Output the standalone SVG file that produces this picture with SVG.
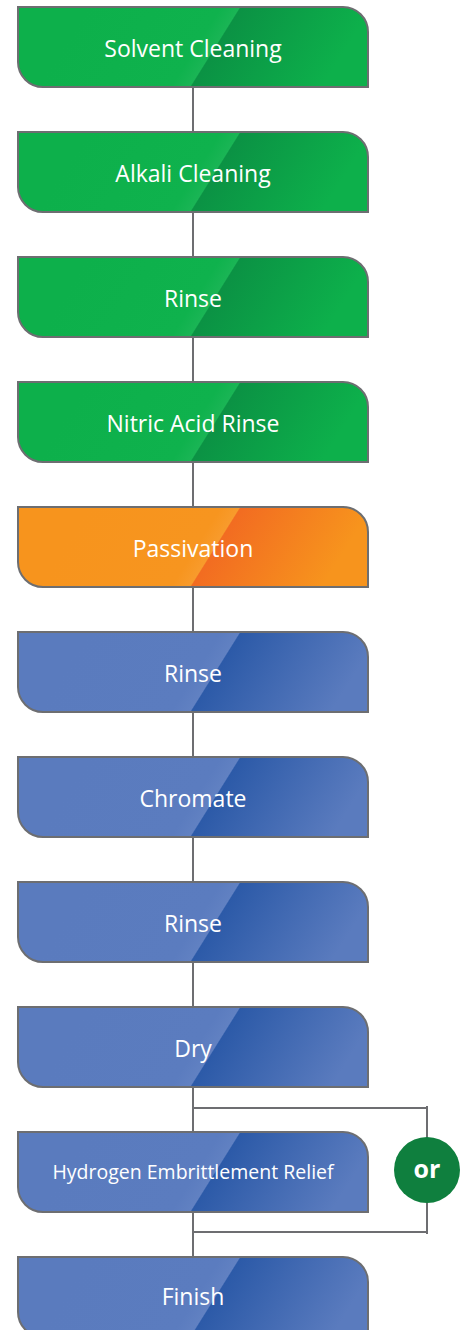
<svg xmlns="http://www.w3.org/2000/svg" width="465" height="1330" viewBox="0 0 465 1330">
<defs>
<linearGradient id="gGreen" gradientUnits="userSpaceOnUse" x1="100" y1="-20" x2="420" y2="180">
<stop offset="0" stop-color="#0db04b"/><stop offset="0.3" stop-color="#0fb24d"/><stop offset="0.342" stop-color="#1ab555"/><stop offset="0.345" stop-color="#0b9244"/><stop offset="0.64" stop-color="#0db04b"/>
</linearGradient>
<linearGradient id="gOrange" gradientUnits="userSpaceOnUse" x1="100" y1="-20" x2="420" y2="180">
<stop offset="0" stop-color="#f7941d"/><stop offset="0.3" stop-color="#f7951f"/><stop offset="0.342" stop-color="#f89b2c"/><stop offset="0.345" stop-color="#f26c21"/><stop offset="0.64" stop-color="#f7941d"/>
</linearGradient>
<linearGradient id="gBlue" gradientUnits="userSpaceOnUse" x1="100" y1="-20" x2="420" y2="180">
<stop offset="0" stop-color="#5a7bbe"/><stop offset="0.3" stop-color="#5b7cbf"/><stop offset="0.342" stop-color="#6181c2"/><stop offset="0.345" stop-color="#2c5aa8"/><stop offset="0.66" stop-color="#5a7bbe"/>
</linearGradient>
<path id="box" d="M18,0 H343 A25,25 0 0 1 368,25 V80 H43 A25,25 0 0 1 18,55 Z"/>
</defs>
<style>
.b{stroke:#6d6e71;stroke-width:2}
.green{fill:url(#gGreen)}
.orange{fill:url(#gOrange)}
.blue{fill:url(#gBlue)}
.t{font-family:"Open Sans","Noto Sans",sans-serif;font-size:23px;fill:#ffffff;text-anchor:middle}
.s{font-size:19.5px}
.line{stroke:#6d6e71;stroke-width:2;fill:none}
</style>
<g id="connectors">
<path class="line" d="M193,87V132 M193,212V257 M193,337V382 M193,462V507 M193,587V632 M193,712V757 M193,837V882 M193,962V1007 M193,1087V1132 M193,1212V1257"/>
<path class="line" d="M193,1108H427 M427,1106V1234 M193,1232H427"/>
</g>
<g id="n1" transform="translate(0,7)"><use href="#box" class="b green"/><text class="t" x="193" y="49.5">Solvent Cleaning</text></g>
<g id="n2" transform="translate(0,132)"><use href="#box" class="b green"/><text class="t" x="193" y="49.5">Alkali Cleaning</text></g>
<g id="n3" transform="translate(0,257)"><use href="#box" class="b green"/><text class="t" x="193" y="49.5">Rinse</text></g>
<g id="n4" transform="translate(0,382)"><use href="#box" class="b green"/><text class="t" x="193" y="49.5">Nitric Acid Rinse</text></g>
<g id="n5" transform="translate(0,507)"><use href="#box" class="b orange"/><text class="t" x="193" y="49.5">Passivation</text></g>
<g id="n6" transform="translate(0,632)"><use href="#box" class="b blue"/><text class="t" x="193" y="49.5">Rinse</text></g>
<g id="n7" transform="translate(0,757)"><use href="#box" class="b blue"/><text class="t" x="193" y="49.5">Chromate</text></g>
<g id="n8" transform="translate(0,882)"><use href="#box" class="b blue"/><text class="t" x="193" y="49.5">Rinse</text></g>
<g id="n9" transform="translate(0,1007)"><use href="#box" class="b blue"/><text class="t" x="193" y="49.5">Dry</text></g>
<g id="n10" transform="translate(0,1132)"><use href="#box" class="b blue"/><text class="t s" x="193" y="46.5">Hydrogen Embrittlement Relief</text></g>
<g id="n11" transform="translate(0,1257)"><use href="#box" class="b blue"/><text class="t" x="193" y="48">Finish</text></g>
<g id="or"><circle cx="427" cy="1170" r="33" fill="#0f7f3e"/><text x="427" y="1178" font-family="'Open Sans','Noto Sans',sans-serif" font-size="25" font-weight="bold" fill="#ffffff" text-anchor="middle">or</text></g>
</svg>
